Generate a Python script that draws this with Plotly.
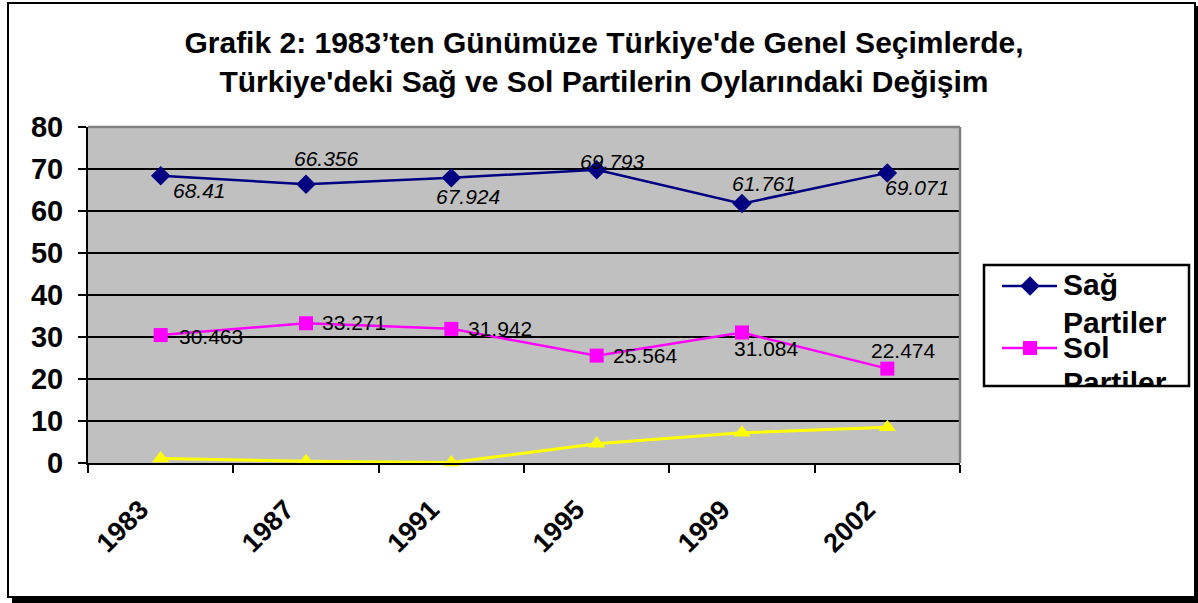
import plotly.graph_objects as go

W, H = 1198, 603

years = ["1983", "1987", "1991", "1995", "1999", "2002"]
sag = [68.41, 66.356, 67.924, 69.793, 61.761, 69.071]
sol = [30.463, 33.271, 31.942, 25.564, 31.084, 22.474]
diger = [1.1, 0.4, 0.1, 4.6, 7.2, 8.5]
series_names = ["Sağ Partiler", "Sol Partiler", "Diğer Partiler"]
y_ticks = [0, 10, 20, 30, 40, 50, 60, 70, 80]
title_lines = ["Grafik 2: 1983’ten Günümüze Türkiye'de Genel Seçimlerde,",
               "Türkiye'deki Sağ ve Sol Partilerin Oylarındaki Değişim"]

# label offsets (pixels) for the data labels
sag_shift = [(39, -15), (20, 26), (17, -19), (16, 8), (22, 20), (30, -15)]
sol_shift = [(50, -1), (48, 1), (49, 0), (49, 0), (24, -16), (16, 18)]

FONT = "Liberation Sans, Arial, sans-serif"
NAVY, MAG, YEL = "#000080", "#FF00FF", "#FFFF00"


def fx(px):
    return px / W


def fy(py):
    return 1 - py / H


fig = go.Figure()

styles = [
    (sag, NAVY, "diamond", 15, 2.5),
    (sol, MAG, "square", 14, 2.5),
    (diger, YEL, "triangle-up", 15, 3),
]
for (vals, col, sym, sz, lw), name in zip(styles, series_names):
    fig.add_trace(go.Scatter(
        x=years, y=vals, name=name, mode="lines+markers",
        line=dict(color=col, width=lw),
        marker=dict(symbol=sym, size=sz, color=col),
        cliponaxis=False, showlegend=False,
        xaxis="x", yaxis="y",
    ))

annotations = []
for i, (v, (dx, dy)) in enumerate(zip(sag, sag_shift)):
    annotations.append(dict(
        x=i, y=v, xref="x", yref="y", text=f"<i>{v:g}</i>", showarrow=False,
        xshift=dx, yshift=dy, font=dict(family=FONT, size=21, color="black"),
    ))
for i, (v, (dx, dy)) in enumerate(zip(sol, sol_shift)):
    annotations.append(dict(
        x=i, y=v, xref="x", yref="y", text=f"{v:g}", showarrow=False,
        xshift=dx, yshift=dy, font=dict(family=FONT, size=21, color="black"),
    ))

# ---- legend drawn in its own small subplot so it can be clipped ----
leg_items = [(series_names[0], NAVY, "diamond", 15, 21),
             (series_names[1], MAG, "square", 14, 83)]
for name, col, sym, sz, ly in leg_items:
    fig.add_trace(go.Scatter(
        x=[18, 73], y=[ly, ly], mode="lines", line=dict(color=col, width=2.5),
        showlegend=False, hoverinfo="skip", xaxis="x2", yaxis="y2"))
    fig.add_trace(go.Scatter(
        x=[46], y=[ly], mode="markers", marker=dict(symbol=sym, size=sz, color=col),
        showlegend=False, hoverinfo="skip", xaxis="x2", yaxis="y2"))

leg_words = []
for name, *_ in leg_items:
    leg_words += name.split(" ")
fig.add_trace(go.Scatter(
    x=[79] * len(leg_words), y=[22, 60, 85, 120], text=leg_words, mode="text",
    textposition="middle right",
    textfont=dict(family=FONT, size=30, color="black", weight="bold"),
    cliponaxis=True, showlegend=False, hoverinfo="skip", xaxis="x2", yaxis="y2"))

shapes = [
    # legend box
    dict(type="rect", xref="x2 domain", yref="y2 domain", x0=0, x1=1, y0=0, y1=1,
         fillcolor="white", line=dict(color="black", width=2.5), layer="below"),
    # plot area top / right gray border
    dict(type="line", xref="x domain", yref="y domain", x0=0, x1=1, y0=1, y1=1,
         line=dict(color="#808080", width=2.5), layer="above"),
    dict(type="line", xref="x domain", yref="y domain", x0=1, x1=1, y0=0, y1=1,
         line=dict(color="#808080", width=2.5), layer="above"),
    # outer frame
    dict(type="rect", xref="paper", yref="paper", x0=fx(8), x1=fx(1195), y0=fy(597), y1=fy(3),
         line=dict(color="black", width=2), fillcolor="rgba(0,0,0,0)"),
    dict(type="line", xref="paper", yref="paper", x0=fx(1196.5), x1=fx(1196.5), y0=fy(603), y1=fy(6),
         line=dict(color="black", width=3)),
    dict(type="line", xref="paper", yref="paper", x0=fx(12), x1=fx(1198), y0=fy(600.5), y1=fy(600.5),
         line=dict(color="black", width=5)),
]

fig.update_layout(
    width=W, height=H,
    margin=dict(l=0, r=0, t=0, b=0),
    paper_bgcolor="white",
    plot_bgcolor="#C0C0C0",
    font=dict(family=FONT, color="black"),
    title=dict(
        text="<br>".join(title_lines),
        x=fx(604), xanchor="center", y=fy(53), yanchor="middle",
        yref="container", xref="container",
        font=dict(family=FONT, size=30, color="black", weight="bold"),
    ),
    xaxis=dict(
        domain=[fx(88), fx(960)], type="category", categoryorder="array",
        categoryarray=years, range=[-0.5, len(years) - 0.5], autorange=False,
        tickson="boundaries", ticks="outside", ticklen=8,
        tickwidth=2, tickcolor="black", tickangle=-45, showgrid=False,
        showline=True, linecolor="black", linewidth=2, zeroline=False,
        tickfont=dict(family=FONT, size=27, color="black", weight="bold"),
        ticklabelstandoff=18, ticklabelshift=-20,
        anchor="y", automargin=False, fixedrange=True,
    ),
    yaxis=dict(
        domain=[fy(463), fy(127)], range=[0, 80], autorange=False, tickvals=y_ticks,
        ticks="outside", ticklen=8, tickwidth=2, tickcolor="black",
        showgrid=True, gridcolor="black", gridwidth=2,
        showline=True, linecolor="black", linewidth=2, zeroline=False,
        tickfont=dict(family=FONT, size=29, color="black", weight="bold"),
        anchor="x", automargin=False, fixedrange=True, ticklabelstandoff=9,
    ),
    xaxis2=dict(domain=[fx(984), fx(1189)], range=[0, 205], visible=False,
                anchor="y2", fixedrange=True),
    yaxis2=dict(domain=[fy(386), fy(265)], range=[121, 0], visible=False,
                anchor="x2", fixedrange=True),
    annotations=annotations,
    shapes=shapes,
    showlegend=False,
)

fig.write_html("out.html", config={"displayModeBar": False},
               post_script="document.body.style.margin='0';")
